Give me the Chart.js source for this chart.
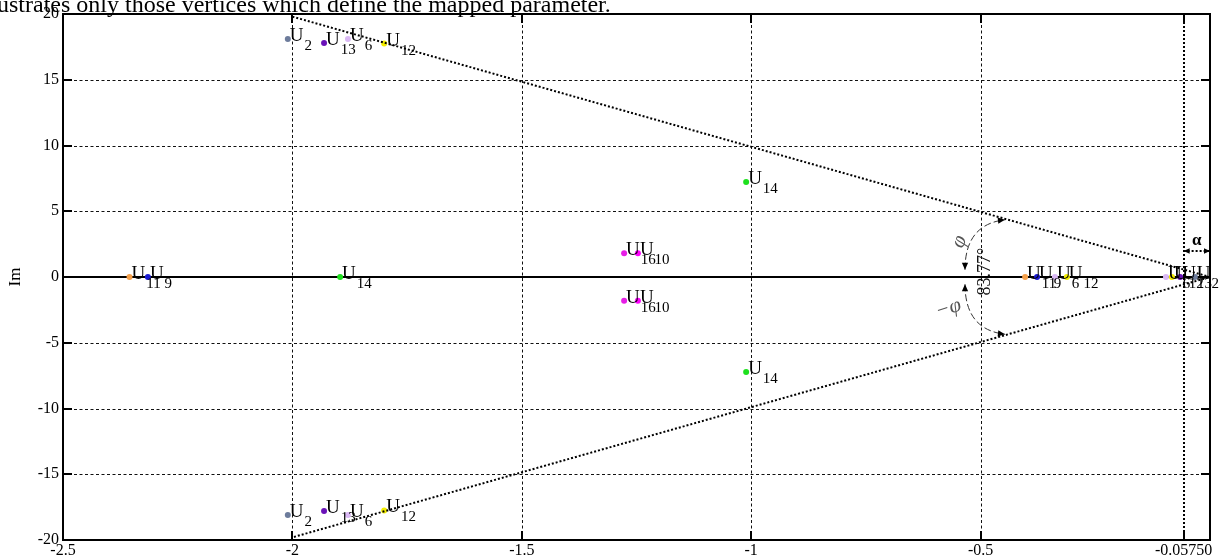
<!DOCTYPE html>
<html>
<head>
<meta charset="utf-8">
<script src="https://cdn.jsdelivr.net/npm/chart.js@4.4.0/dist/chart.umd.min.js"></script>
<style>
  html, body { margin: 0; padding: 0; background: #fff; }
  #wrap { position: relative; width: 1225px; height: 560px; overflow: hidden; }
  #caption {
    position: absolute; left: -3px; top: -8px; margin: 0;
    font-family: 'Liberation Serif', 'Times New Roman', serif;
    font-size: 24px; line-height: 24px; color: #000; white-space: nowrap;
  }
  canvas { position: absolute; left: 0; top: 0; }
</style>
</head>
<body>
<div id="wrap">
  <canvas id="chart" width="1225" height="560"></canvas>
  <p id="caption">ustrates only those vertices which define the mapped parameter.</p>
</div>
<script>
// Axis ticks
const xTicks = [-2.5, -2, -1.5, -1, -0.5, -0.0575];
const xTickLabels = ['-2.5', '-2', '-1.5', '-1', '-0.5', '-0.05750'];
const yTicks = [-20, -15, -10, -5, 0, 5, 10, 15, 20];

// Poles: index of U, real part, imaginary part
const poleIndex = [2, 13, 6, 12, 2, 13, 6, 12, 11, 9, 14, 16, 10, 16, 10, 14, 14, 11, 9, 6, 12, 6, 12, 13, 2];
const poleRe = [-2.010, -1.931, -1.879, -1.800, -2.010, -1.931, -1.879, -1.800,
                -2.355, -2.315, -1.896, -1.277, -1.247, -1.277, -1.247, -1.011, -1.011,
                -0.403, -0.377, -0.338, -0.312, -0.096, -0.083, -0.065, -0.033];
const poleIm = [18.1, 17.8, 18.1, 17.75, -18.1, -17.8, -18.1, -17.75,
                0, 0, 0, 1.8, 1.8, -1.8, -1.8, 7.22, -7.22,
                0, 0, 0, 0, 0, 0, 0, 0];

// Sector boundary (the two dotted rays meeting at the origin)
const wedgeRe = [-2, 0, -2];
const wedgeIm = [19.8, 0, -19.8];

// Angle annotation
const angleText = '83.77°';
const alphaFrom = -0.0575, alphaTo = 0, alphaIm = 2.0;

const colorOf = {
  2: '#6d7c9c', 13: '#6a12b8', 6: '#dab8f4', 12: '#f4ee00', 14: '#1ee01e',
  16: '#e61ee6', 10: '#ff00ff', 11: '#f5a04a', 9: '#1a1ad2'
};

const SERIF = "'Liberation Serif', 'Times New Roman', serif";

const poles = poleRe.map((re, i) => ({ x: re, y: poleIm[i] }));
const wedge = wedgeRe.map((re, i) => ({ x: re, y: wedgeIm[i] }));

function arrowHead(ctx, x, y, ang, size) {
  ctx.save();
  ctx.translate(x, y);
  ctx.rotate(ang);
  ctx.beginPath();
  ctx.moveTo(0, 0);
  ctx.lineTo(-size, -size * 0.45);
  ctx.lineTo(-size, size * 0.45);
  ctx.closePath();
  ctx.fill();
  ctx.restore();
}

// Curved double arrow between two data points via a control point
function curvedArrow(ctx, xs, ys, p0, c, p2) {
  const a = { x: xs.getPixelForValue(p0[0]), y: ys.getPixelForValue(p0[1]) };
  const k = { x: xs.getPixelForValue(c[0]), y: ys.getPixelForValue(c[1]) };
  const b = { x: xs.getPixelForValue(p2[0]), y: ys.getPixelForValue(p2[1]) };
  ctx.save();
  ctx.strokeStyle = '#333';
  ctx.fillStyle = '#000';
  ctx.lineWidth = 1;
  ctx.setLineDash([7, 3]);
  ctx.beginPath();
  ctx.moveTo(a.x, a.y);
  ctx.quadraticCurveTo(k.x, k.y, b.x, b.y);
  ctx.stroke();
  ctx.setLineDash([]);
  arrowHead(ctx, a.x, a.y, Math.atan2(a.y - k.y, a.x - k.x), 7);
  arrowHead(ctx, b.x, b.y, Math.atan2(b.y - k.y, b.x - k.x), 7);
  ctx.restore();
}

const frame = {
  id: 'frame',
  beforeDatasetsDraw(chart) {
    const { ctx, chartArea: ca, scales: { x, y } } = chart;
    ctx.save();
    ctx.strokeStyle = '#111';
    ctx.lineWidth = 1;
    ctx.setLineDash([3, 2.5]);
    yTicks.forEach(v => {
      if (v === 0 || Math.abs(v) === 20) return;
      const py = Math.round(y.getPixelForValue(v)) + 0.5;
      ctx.beginPath(); ctx.moveTo(ca.left, py); ctx.lineTo(ca.right, py); ctx.stroke();
    });
    xTicks.forEach(v => {
      if (v === -2.5 || v === -0.0575) return;
      const px = Math.round(x.getPixelForValue(v)) + 0.5;
      ctx.beginPath(); ctx.moveTo(px, ca.top); ctx.lineTo(px, ca.bottom); ctx.stroke();
    });
    // dotted marker at -0.0575
    ctx.strokeStyle = '#000';
    ctx.lineWidth = 2;
    ctx.setLineDash([2, 2]);
    const pm = Math.round(x.getPixelForValue(-0.0575));
    ctx.beginPath(); ctx.moveTo(pm, ca.top); ctx.lineTo(pm, ca.bottom); ctx.stroke();
    // real axis
    ctx.setLineDash([]);
    ctx.lineWidth = 2;
    const p0 = Math.round(y.getPixelForValue(0));
    ctx.beginPath(); ctx.moveTo(ca.left, p0); ctx.lineTo(ca.right, p0); ctx.stroke();
    ctx.restore();
  },
  afterDatasetsDraw(chart) {
    const { ctx, chartArea: ca, scales: { x, y } } = chart;
    ctx.save();
    // box
    ctx.strokeStyle = '#000';
    ctx.lineWidth = 2;
    ctx.strokeRect(ca.left, ca.top, ca.right - ca.left, ca.bottom - ca.top);
    // inward ticks
    const tl = 9;
    yTicks.forEach(v => {
      const py = Math.round(y.getPixelForValue(v));
      ctx.beginPath();
      ctx.moveTo(ca.left, py); ctx.lineTo(ca.left + tl, py);
      ctx.moveTo(ca.right, py); ctx.lineTo(ca.right - tl, py);
      ctx.stroke();
    });
    xTicks.forEach(v => {
      const px = Math.round(x.getPixelForValue(v));
      ctx.beginPath();
      ctx.moveTo(px, ca.top); ctx.lineTo(px, ca.top + tl);
      ctx.moveTo(px, ca.bottom); ctx.lineTo(px, ca.bottom - tl);
      ctx.stroke();
    });

    // pole labels U_k
    const meta = chart.getDatasetMeta(1);
    ctx.fillStyle = '#000';
    ctx.textAlign = 'left';
    ctx.textBaseline = 'alphabetic';
    meta.data.forEach((el, i) => {
      const lx = el.x + 2, ly = el.y + 2;
      ctx.font = '19px ' + SERIF;
      ctx.fillText('U', lx, ly);
      const w = ctx.measureText('U').width;
      ctx.font = '15px ' + SERIF;
      ctx.fillText(String(poleIndex[i]), lx + w + 1, ly + 9);
    });

    // angle arrows (phi and -phi)
    curvedArrow(ctx, x, y, [-0.534, 0.55], [-0.534, 4.0], [-0.447, 4.35]);
    curvedArrow(ctx, x, y, [-0.534, -0.55], [-0.534, -4.0], [-0.447, -4.35]);

    ctx.fillStyle = '#555';
    ctx.font = 'italic 21px ' + SERIF;
    ctx.textAlign = 'center';
    ctx.textBaseline = 'middle';
    ctx.save();
    ctx.translate(x.getPixelForValue(-0.546), y.getPixelForValue(2.7));
    ctx.rotate(-1.2);
    ctx.fillText('φ', 0, 0);
    ctx.restore();
    ctx.save();
    ctx.translate(x.getPixelForValue(-0.57), y.getPixelForValue(-2.4));
    ctx.rotate(-0.3);
    ctx.fillText('−φ', 0, 0);
    ctx.restore();

    // angle value, read upward
    ctx.fillStyle = '#111';
    ctx.font = '18px ' + SERIF;
    ctx.save();
    ctx.translate(x.getPixelForValue(-0.49), y.getPixelForValue(0.4));
    ctx.rotate(-Math.PI / 2);
    ctx.fillText(angleText, 0, 0);
    ctx.restore();

    // alpha span
    const ax0 = x.getPixelForValue(alphaFrom), ax1 = x.getPixelForValue(alphaTo);
    const ay = Math.round(y.getPixelForValue(alphaIm));
    ctx.strokeStyle = '#000';
    ctx.fillStyle = '#000';
    ctx.lineWidth = 2;
    ctx.setLineDash([2, 2]);
    ctx.beginPath(); ctx.moveTo(ax0, ay); ctx.lineTo(ax1, ay); ctx.stroke();
    ctx.setLineDash([]);
    arrowHead(ctx, ax0, ay, Math.PI, 6);
    arrowHead(ctx, ax1, ay, 0, 6);
    ctx.font = 'bold 17px ' + SERIF;
    ctx.textAlign = 'center';
    ctx.textBaseline = 'alphabetic';
    ctx.fillText('α', (ax0 + ax1) / 2, ay - 6);
    ctx.restore();
  }
};

new Chart(document.getElementById('chart'), {
  type: 'scatter',
  data: {
    datasets: [
      {
        data: wedge,
        showLine: true,
        borderColor: '#000',
        borderWidth: 2,
        borderDash: [2, 2],
        pointRadius: 0,
        fill: false
      },
      {
        data: poles,
        pointRadius: 3,
        pointBorderWidth: 0,
        pointBackgroundColor: poleIndex.map(k => colorOf[k]),
        pointBorderColor: poleIndex.map(k => colorOf[k])
      }
    ]
  },
  options: {
    responsive: false,
    animation: false,
    devicePixelRatio: 1,
    layout: { padding: { top: 14, right: 15, left: 0, bottom: 0 } },
    plugins: { legend: { display: false }, tooltip: { enabled: false } },
    scales: {
      x: {
        type: 'linear',
        min: -2.5,
        max: 0,
        afterBuildTicks: s => { s.ticks = xTicks.map(v => ({ value: v })); },
        afterFit: s => { s.height = 20; },
        grid: { display: false, drawTicks: false },
        border: { display: false },
        ticks: {
          autoSkip: false,
          maxRotation: 0,
          padding: 3,
          color: '#000',
          font: { family: SERIF, size: 16, lineHeight: 1 },
          callback: v => { const i = xTicks.indexOf(v); return i >= 0 ? xTickLabels[i] : ''; }
        }
      },
      y: {
        min: -20,
        max: 20,
        afterBuildTicks: s => { s.ticks = yTicks.map(v => ({ value: v })); },
        afterFit: s => { s.width = 63; },
        grid: { display: false, drawTicks: false },
        border: { display: false },
        title: {
          display: true,
          text: 'Im',
          color: '#000',
          font: { family: SERIF, size: 17 },
          padding: { top: 5, bottom: 0 }
        },
        ticks: {
          padding: 4,
          color: '#000',
          font: { family: SERIF, size: 16 }
        }
      }
    }
  },
  plugins: [frame]
});
</script>
</body>
</html>
